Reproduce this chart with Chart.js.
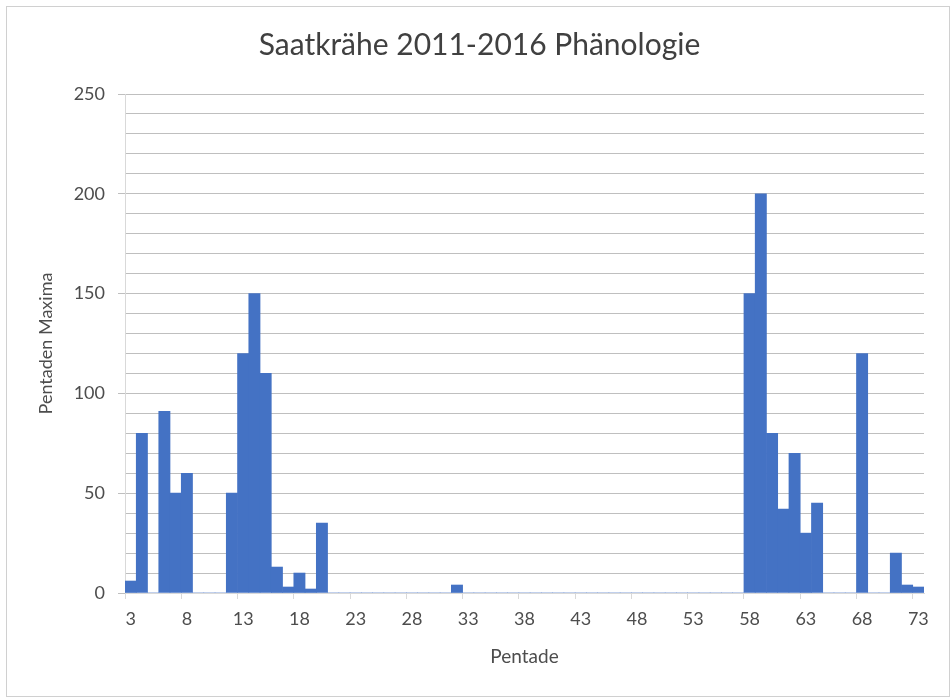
<!DOCTYPE html>
<html>
<head>
<meta charset="utf-8">
<script src="https://cdn.jsdelivr.net/npm/chart.js@4.4.1/dist/chart.umd.min.js"></script>
<style>
    html, body { margin: 0; padding: 0; background: #fff; }
    #frame {
        position: absolute;
        left: 6px; top: 6px;
        width: 942px; height: 689px;
        border: 1px solid #d0d0d0;
    }
    #frame canvas { display: block; }
</style>
</head>
<body>
<div id="frame"><canvas id="phaenologieChart" width="942" height="689"></canvas></div>
<script>
// Pentaden 3..73
const pentaden = [
    3, 4, 5, 6, 7, 8, 9, 10, 11, 12, 13, 14, 15, 16, 17, 18, 19, 20,
    21, 22, 23, 24, 25, 26, 27, 28, 29, 30, 31, 32, 33, 34, 35, 36, 37, 38,
    39, 40, 41, 42, 43, 44, 45, 46, 47, 48, 49, 50, 51, 52, 53, 54, 55, 56,
    57, 58, 59, 60, 61, 62, 63, 64, 65, 66, 67, 68, 69, 70, 71, 72, 73
];

// Pentaden Maxima
const maxima = [
    6, 80, 0, 91, 50, 60, 0, 0, 0, 50, 120, 150, 110, 13, 3, 10, 2, 35,
    0, 0, 0, 0, 0, 0, 0, 0, 0, 0, 0, 4, 0, 0, 0, 0, 0, 0,
    0, 0, 0, 0, 0, 0, 0, 0, 0, 0, 0, 0, 0, 0, 0, 0, 0, 0,
    0, 150, 200, 80, 42, 70, 30, 45, 0, 0, 0, 120, 0, 0, 20, 4, 3
];

const yTicks = [0, 50, 100, 150, 200, 250];

const titleColor = '#404040';
const textColor = '#4d4d4d';
const gridColor = '#bfbfbf';
const fontFamily = 'Lato, "Open Sans", sans-serif';

const ctx = document.getElementById('phaenologieChart').getContext('2d');
new Chart(ctx, {
    type: 'bar',
    data: {
        labels: pentaden,
        datasets: [{
            label: 'Pentaden Maxima',
            data: maxima,
            backgroundColor: '#4472c4',
            borderWidth: 0,
            barPercentage: 1.0,
            categoryPercentage: 1.0
        }]
    },
    options: {
        responsive: false,
        animation: false,
        layout: {
            padding: { left: 28, right: 25, top: 0, bottom: 28 }
        },
        plugins: {
            legend: { display: false },
            tooltip: { enabled: false },
            title: {
                display: true,
                text: 'Saatkrähe 2011-2016 Phänologie',
                color: titleColor,
                font: { family: fontFamily, size: 30, weight: 'normal' },
                padding: { top: 20, bottom: 31 }
            }
        },
        scales: {
            x: {
                offset: true,
                grid: {
                    offset: true,
                    drawOnChartArea: false,
                    tickLength: 6,
                    color: '#d9d9d9',
                    tickColor: c => (c.index % 5 === 0 ? '#d9d9d9' : 'rgba(0,0,0,0)')
                },
                border: { color: '#d9d9d9' },
                ticks: {
                    autoSkip: false,
                    maxRotation: 0,
                    color: textColor,
                    font: { family: fontFamily, size: 18 },
                    padding: 9,
                    callback: function (val, i) {
                        return i % 5 === 0 ? this.getLabelForValue(val) : '';
                    }
                },
                title: {
                    display: true,
                    text: 'Pentade',
                    color: textColor,
                    font: { family: fontFamily, size: 19 },
                    padding: { top: 0, bottom: 0 }
                },
                afterFit: s => { s.height = 75; }
            },
            y: {
                min: 0,
                max: 250,
                grid: {
                    color: gridColor,
                    tickLength: 7,
                    tickColor: c => (yTicks.includes(c.tick.value) ? gridColor : 'rgba(0,0,0,0)')
                },
                border: { color: '#d9d9d9' },
                ticks: {
                    stepSize: 10,
                    autoSkip: false,
                    color: textColor,
                    font: { family: fontFamily, size: 18 },
                    padding: 13,
                    callback: v => (yTicks.includes(v) ? v : '')
                },
                title: {
                    display: true,
                    text: 'Pentaden Maxima',
                    color: textColor,
                    font: { family: fontFamily, size: 18 },
                    padding: { top: 0, bottom: 0 }
                },
                afterFit: s => { s.width = 90; }
            }
        }
    }
});
</script>
</body>
</html>
